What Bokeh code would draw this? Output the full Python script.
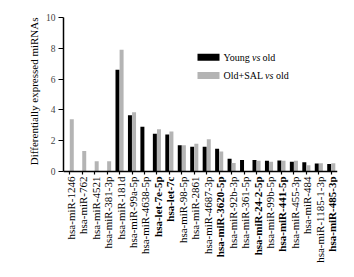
import math
from bokeh.plotting import figure
from bokeh.models import ColumnDataSource, Range1d, FactorRange, Title
from bokeh.transform import dodge
from bokeh.core.properties import value, field
from bokeh.embed import file_html
from bokeh.resources import INLINE

# ---- data ----
mirnas = [
    "hsa-miR-1246", "hsa-miR-762", "hsa-miR-4521", "hsa-miR-381-3p",
    "hsa-miR-181d", "hsa-miR-99a-5p", "hsa-miR-4638-5p", "hsa-let-7e-5p",
    "hsa-let-7c", "hsa-miR-98-5p", "hsa-miR-2861", "hsa-miR-4687-3p",
    "hsa-miR-3620-5p", "hsa-miR-92b-3p", "hsa-miR-361-5p", "hsa-miR-24-2-5p",
    "hsa-miR-99b-5p", "hsa-miR-441-5p", "hsa-miR-455-3p", "hsa-miR-484",
    "hsa-miR-1185-1-3p", "hsa-miR-485-3p",
]
bold_mirnas = ["hsa-let-7e-5p", "hsa-let-7c", "hsa-miR-3620-5p",
               "hsa-miR-24-2-5p", "hsa-miR-441-5p", "hsa-miR-485-3p"]
young_vs_old = [0, 0, 0, 0, 6.6, 3.65, 2.9, 2.45, 2.4, 1.7, 1.6, 1.6,
                1.47, 0.82, 0.75, 0.74, 0.7, 0.72, 0.63, 0.6, 0.52, 0.48]
oldsal_vs_old = [3.4, 1.33, 0.67, 0.67, 7.9, 3.85, 0, 2.75, 2.6, 1.7, 1.8, 2.1,
                 1.3, 0.56, 0, 0.7, 0.63, 0.69, 0.7, 0.41, 0.54, 0.54]
series_names = ["Young", "Old+SAL"]
y_ticks = [0, 2, 4, 6, 8, 10]
y_title = "Differentially expressed miRNAs"

FONT = "Liberation Serif"
GRAY = "#b4b4b4"

W, H = 354, 277
L, R, T, B = 63, 17, 17, 14
FW, FH = W - L - R, H - T - B
YMAX = 10
ZERO_PX = 171                     # page row of the value axis zero
PX_PER_UNIT = (ZERO_PX - T) / YMAX
YMIN = -(T + FH - ZERO_PX) / PX_PER_UNIT

src = ColumnDataSource(dict(
    cat=mirnas, young=young_vs_old, oldsal=oldsal_vs_old,
    base=[0] * len(mirnas),
    style=["bold" if m in bold_mirnas else "normal" for m in mirnas],
))

p = figure(x_range=FactorRange(factors=mirnas, range_padding=0),
           y_range=Range1d(YMIN, YMAX), width=W, height=H,
           output_backend="svg", toolbar_location=None,
           min_border_left=L, min_border_right=R, min_border_top=T,
           min_border_bottom=B)
p.outline_line_color = None
p.xgrid.visible = False
p.ygrid.visible = False
p.background_fill_color = "white"
p.border_fill_color = "white"

p.vbar(x=dodge("cat", -0.165, range=p.x_range), top="young", width=0.32,
       source=src, fill_color="black", line_color=None)
p.vbar(x=dodge("cat", 0.165, range=p.x_range), top="oldsal", width=0.32,
       source=src, fill_color=GRAY, line_color=None)

# axes
for ax in (p.xaxis[0], p.yaxis[0]):
    ax.axis_line_width = 1.5
    ax.major_tick_line_width = 1.2
    ax.major_tick_in = 0
    ax.minor_tick_line_color = None
p.xaxis.fixed_location = 0
p.xaxis.major_tick_out = 3
p.xaxis.major_label_text_font_size = "1px"
p.xaxis.major_label_text_color = None
p.xaxis.major_label_standoff = 0
p.yaxis.bounds = (0, YMAX)
p.yaxis.major_tick_out = 5
p.yaxis.ticker = y_ticks
p.yaxis.major_label_text_font = FONT
p.yaxis.major_label_text_font_size = "9.5px"
p.yaxis.major_label_standoff = 3

# value-axis title, aligned to the top of the plotting area
p.add_layout(Title(text=y_title, align="right", text_font=FONT,
                   text_font_size="11px", text_font_style="normal",
                   text_color="black", standoff=6), "left")

# category labels (some in bold), rotated, below the zero line
p.text(x="cat", y="base", text="cat", source=src, angle=math.pi / 2,
       text_align="right", text_baseline="middle", x_offset=1, y_offset=5,
       text_font=value(FONT), text_font_size="11px",
       text_font_style=field("style"), text_color="black")

# legend: positions given in page pixels, converted to the plot's
# synthetic categorical x / data y coordinates
n = len(mirnas)
def sx(px):
    return (px - L) / FW * n
def sy(py):
    return (ZERO_PX - py) / PX_PER_UNIT

leg = ColumnDataSource(dict(x=[sx(208), sx(208)], y=[sy(56.7), sy(75)],
                            c=["black", GRAY]))
p.rect(x="x", y="y", width=22, height=7, width_units="screen",
       height_units="screen", source=leg, fill_color="c", line_color=None)
parts = [
    (223, 56.7, series_names[0], "normal"),
    (251.5, 56.7, "vs", "italic"),
    (262, 56.7, "old", "normal"),
    (223, 75, series_names[1], "normal"),
    (264.5, 75, "vs", "italic"),
    (275.5, 75, "old", "normal"),
]
tsrc = ColumnDataSource(dict(x=[sx(q[0]) for q in parts],
                             y=[sy(q[1]) for q in parts],
                             t=[q[2] for q in parts], s=[q[3] for q in parts]))
p.text(x="x", y="y", text="t", source=tsrc, text_font=value(FONT),
       text_font_size="10px", text_font_style=field("s"),
       text_baseline="middle", text_align="left", text_color="black")

open("out.html", "w").write(file_html(p, INLINE))
